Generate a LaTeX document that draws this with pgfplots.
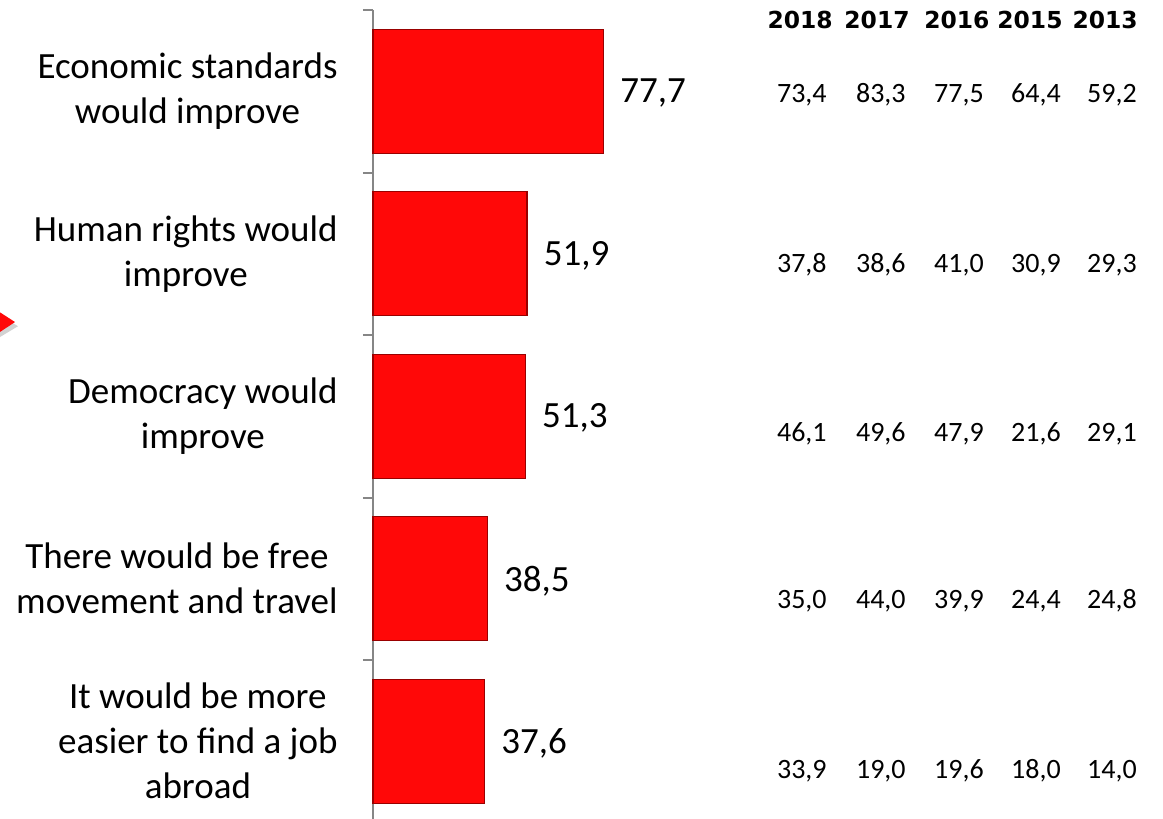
\documentclass[border=0pt]{standalone}
\usepackage{pgfplots}
\pgfplotsset{compat=1.18}
\usepackage{fontspec}
\setmainfont{Carlito}
\newfontfamily\hdrfont{DejaVu Sans}

\definecolor{barred}{RGB}{255,8,8}
\definecolor{axgray}{RGB}{134,134,134}

\newcommand{\catfont}{\fontsize{18.5}{22.5}\selectfont}
\newcommand{\valfont}{\fontsize{18.5}{20}\selectfont}
\newcommand{\tabfont}{\fontsize{14}{15}\selectfont}
\newcommand{\yearfont}{\hdrfont\bfseries\fontsize{11.7}{13}\selectfont}

\begin{document}
\begin{tikzpicture}
% page = 1163 x 819 px at 0.5pt per px
\useasboundingbox (-186.5pt,0.125pt) rectangle (395pt,409.625pt);

% little red chevron cut by the left edge
\fill[gray!35] (-190pt,254pt) -- (-177.5pt,246.5pt) -- (-190pt,239pt) -- cycle;
\fill[barred] (-192pt,257pt) -- (-179pt,248.6pt) -- (-192pt,240pt) -- cycle;

\begin{axis}[
    at={(0,0)}, anchor=south west,
    scale only axis,
    width=148.5pt, height=404.625pt,
    xmin=0, xmax=100,
    ymin=-0.5, ymax=4.48,
    y dir=reverse,
    xbar, bar width=62pt,
    axis x line=none,
    axis y line*=left,
    axis line style={draw=axgray, line width=1pt},
    clip=false,
    ytick={0,1,2,3,4},
    yticklabels={
        {Economic standards\\would improve},
        {Human rights would\\improve},
        {Democracy would\\improve},
        {There would be free\\movement and travel},
        {It would be more\\easier to find a job\\abroad}},
    y tick label style={align=center, anchor=east, inner sep=0pt, font=\catfont},
    yticklabel shift=12.5pt,
    tick align=outside,
    major tick length=5pt,
    major y tick style={draw=none},
    extra y ticks={-0.5,0.5,1.5,2.5,3.5},
    extra y tick labels={},
    extra y tick style={major y tick style={draw=axgray, line width=1pt}},
    nodes near coords={\pgfmathprintnumber[fixed,fixed zerofill,precision=1,use comma,assume math mode=true]{\pgfplotspointmeta}},
    nodes near coords align={horizontal},
    every node near coord/.append style={font=\valfont, anchor=west, inner sep=0pt, xshift=8pt, yshift=-1pt, text=black},
]
\addplot[fill=barred, draw=red!60!black, line width=0.7pt] coordinates {
    (77.7,0) (51.9,1) (51.3,2) (38.5,3) (37.6,4)
};

% comparison table: years
\node[font=\yearfont] at (axis cs:143.8,-0.438) {2018};
\node[font=\yearfont] at (axis cs:169.7,-0.438) {2017};
\node[font=\yearfont] at (axis cs:196.6,-0.438) {2016};
\node[font=\yearfont] at (axis cs:221.2,-0.438) {2015};
\node[font=\yearfont] at (axis cs:246.5,-0.438) {2013};

% row 1
\node[font=\tabfont] at (axis cs:144.4,0.023) {73,4};
\node[font=\tabfont] at (axis cs:171.0,0.023) {83,3};
\node[font=\tabfont] at (axis cs:197.3,0.023) {77,5};
\node[font=\tabfont] at (axis cs:223.2,0.023) {64,4};
\node[font=\tabfont] at (axis cs:248.8,0.023) {59,2};
% row 2
\node[font=\tabfont] at (axis cs:144.4,1.069) {37,8};
\node[font=\tabfont] at (axis cs:171.0,1.069) {38,6};
\node[font=\tabfont] at (axis cs:197.3,1.069) {41,0};
\node[font=\tabfont] at (axis cs:223.2,1.069) {30,9};
\node[font=\tabfont] at (axis cs:248.8,1.069) {29,3};
% row 3
\node[font=\tabfont] at (axis cs:144.4,2.109) {46,1};
\node[font=\tabfont] at (axis cs:171.0,2.109) {49,6};
\node[font=\tabfont] at (axis cs:197.3,2.109) {47,9};
\node[font=\tabfont] at (axis cs:223.2,2.109) {21,6};
\node[font=\tabfont] at (axis cs:248.8,2.109) {29,1};
% row 4
\node[font=\tabfont] at (axis cs:144.4,3.137) {35,0};
\node[font=\tabfont] at (axis cs:171.0,3.137) {44,0};
\node[font=\tabfont] at (axis cs:197.3,3.137) {39,9};
\node[font=\tabfont] at (axis cs:223.2,3.137) {24,4};
\node[font=\tabfont] at (axis cs:248.8,3.137) {24,8};
% row 5
\node[font=\tabfont] at (axis cs:144.4,4.183) {33,9};
\node[font=\tabfont] at (axis cs:171.0,4.183) {19,0};
\node[font=\tabfont] at (axis cs:197.3,4.183) {19,6};
\node[font=\tabfont] at (axis cs:223.2,4.183) {18,0};
\node[font=\tabfont] at (axis cs:248.8,4.183) {14,0};
\end{axis}
\end{tikzpicture}
\end{document}
